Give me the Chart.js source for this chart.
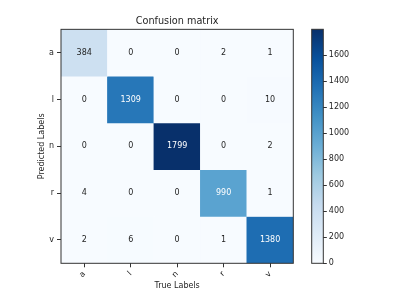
<!DOCTYPE html>
<html><head><meta charset="utf-8">
<script src="https://cdn.jsdelivr.net/npm/chart.js@4.4.1/dist/chart.umd.min.js"></script>
<style>
html,body{margin:0;padding:0;background:#fff;overflow:hidden;}
#main{position:absolute;left:0;top:0;width:413px;height:302px;}
#cbar{position:absolute;left:300px;top:0;width:113px;height:302px;}
</style></head><body>
<div id="main"><canvas id="c1"></canvas></div>
<div id="cbar"><canvas id="c2"></canvas></div>
<script>
const chartTitle = 'Confusion matrix';
const xTitle = 'True Labels';
const yTitle = 'Predicted Labels';
const trueLabels = ['a','l','n','r','v'];
const predLabels = ['a','l','n','r','v'];
const rowA = [384, 0, 0, 2, 1];
const rowL = [0, 1309, 0, 0, 10];
const rowN = [0, 0, 1799, 0, 2];
const rowR = [4, 0, 0, 990, 1];
const rowV = [2, 6, 0, 1, 1380];
const colorbarTicks = [0, 200, 400, 600, 800, 1000, 1200, 1400, 1600];

const matrix = [rowA, rowL, rowN, rowR, rowV];
const cmax = Math.max(...matrix.flat());
const thresh = cmax / 2;

const FONT = 'DejaVu Sans';
const TXT = '#1e1e1e';
const EDGE = '#333333';
const blues = [[247,251,255],[222,235,247],[198,219,239],[158,202,225],[107,174,214],[66,146,198],[33,113,181],[8,81,156],[8,48,107]];
function bluesColor(t){
  t = Math.max(0, Math.min(1, t));
  const p = t * (blues.length - 1);
  const i = Math.min(Math.floor(p), blues.length - 2);
  const f = p - i;
  const c = blues[i].map((v,k)=>Math.round(v + (blues[i+1][k]-v)*f));
  return 'rgb(' + c.join(',') + ')';
}

const datasets = matrix.map((row, i) => ({
  label: predLabels[i],
  data: row.map(() => [i, i + 1]),
  values: row,
  backgroundColor: row.map(v => bluesColor(v / cmax)),
  borderWidth: 0,
  barPercentage: 1,
  categoryPercentage: 1,
  grouped: false
}));

const frame = {
  id: 'frame',
  afterDatasetsDraw(chart) {
    const a = chart.chartArea, ctx = chart.ctx;
    ctx.save();
    ctx.strokeStyle = EDGE; ctx.lineWidth = 1;
    ctx.strokeRect(a.left, a.top, a.right - a.left, a.bottom - a.top);
    ctx.restore();
  }
};
const centerTitle = {
  id: 'centerTitle',
  afterLayout(chart) {
    const tb = chart.titleBlock, a = chart.chartArea;
    if (tb && a) { tb.left = a.left; tb.right = a.right; tb.width = a.right - a.left; }
  }
};
const cellText = {
  id: 'cellText',
  afterDatasetsDraw(chart) {
    const ctx = chart.ctx;
    ctx.save();
    ctx.font = '8px "' + FONT + '"';
    ctx.textAlign = 'center'; ctx.textBaseline = 'middle';
    chart.data.datasets.forEach((ds, di) => {
      const meta = chart.getDatasetMeta(di);
      meta.data.forEach((el, j) => {
        const v = ds.values[j];
        ctx.fillStyle = v > thresh ? '#ffffff' : TXT;
        ctx.fillText(String(v), el.x, (el.y + el.base) / 2);
      });
    });
    ctx.restore();
  }
};

new Chart(document.getElementById('c1'), {
  type: 'bar',
  data: { labels: trueLabels, datasets },
  plugins: [cellText, frame, centerTitle],
  options: {
    responsive: true, maintainAspectRatio: false, animation: false,
    layout: { padding: { left: 0, right: 119.7, top: 0, bottom: 0 } },
    plugins: {
      legend: { display: false }, tooltip: { enabled: false },
      title: { display: true, text: chartTitle, color: TXT,
        font: { family: FONT, size: 9.7, weight: 'normal' },
        padding: { top: 15.2, bottom: 2.5 } }
    },
    scales: {
      x: {
        type: 'category', offset: true,
        grid: { display: true, drawOnChartArea: false, offset: false, tickLength: 4, color: EDGE },
        border: { display: false },
        ticks: { font: { family: FONT, size: 8 }, color: TXT, minRotation: 45, maxRotation: 45, padding: 2 },
        title: { display: true, text: xTitle, color: TXT, font: { family: FONT, size: 8 }, padding: { top: 0, bottom: 11.6 } },
        afterFit: s => { s.height = 38.7; }
      },
      y: {
        type: 'linear', min: 0, max: predLabels.length, reverse: true,
        afterBuildTicks: s => { s.ticks = predLabels.map((_, i) => ({ value: i + 0.5 })); },
        ticks: { callback: (v, i) => predLabels[i], font: { family: FONT, size: 8 }, color: TXT, padding: 3 },
        grid: { display: true, drawOnChartArea: false, tickLength: 4, color: EDGE },
        border: { display: false },
        title: { display: true, text: yTitle, color: TXT, font: { family: FONT, size: 8 }, padding: { top: 36.9, bottom: 0 } },
        afterFit: s => { s.width = 61; }
      }
    }
  }
});

new Chart(document.getElementById('c2'), {
  type: 'bar',
  data: { labels: [''], datasets: [{
    data: [[0, cmax]],
    backgroundColor: (c) => {
      const a = c.chart.chartArea;
      if (!a) return bluesColor(0.5);
      const g = c.chart.ctx.createLinearGradient(0, a.bottom, 0, a.top);
      blues.forEach((b, i) => g.addColorStop(i / (blues.length - 1), 'rgb(' + b.join(',') + ')'));
      return g;
    },
    borderWidth: 0, barPercentage: 1, categoryPercentage: 1
  }]},
  plugins: [frame],
  options: {
    responsive: true, maintainAspectRatio: false, animation: false,
    layout: { padding: { left: 11.7, right: 0, top: 29.3, bottom: 38.7 } },
    plugins: { legend: { display: false }, tooltip: { enabled: false } },
    scales: {
      x: { display: false },
      y: {
        position: 'right', min: 0, max: cmax,
        afterBuildTicks: s => { s.ticks = colorbarTicks.map(v => ({ value: v })); },
        ticks: { callback: v => String(v), font: { family: FONT, size: 8 }, color: TXT, padding: 2 },
        grid: { display: true, drawOnChartArea: false, tickLength: 3.5, color: EDGE },
        border: { display: false },
        afterFit: s => { s.width = 89.7; }
      }
    }
  }
});
</script>
</body></html>
